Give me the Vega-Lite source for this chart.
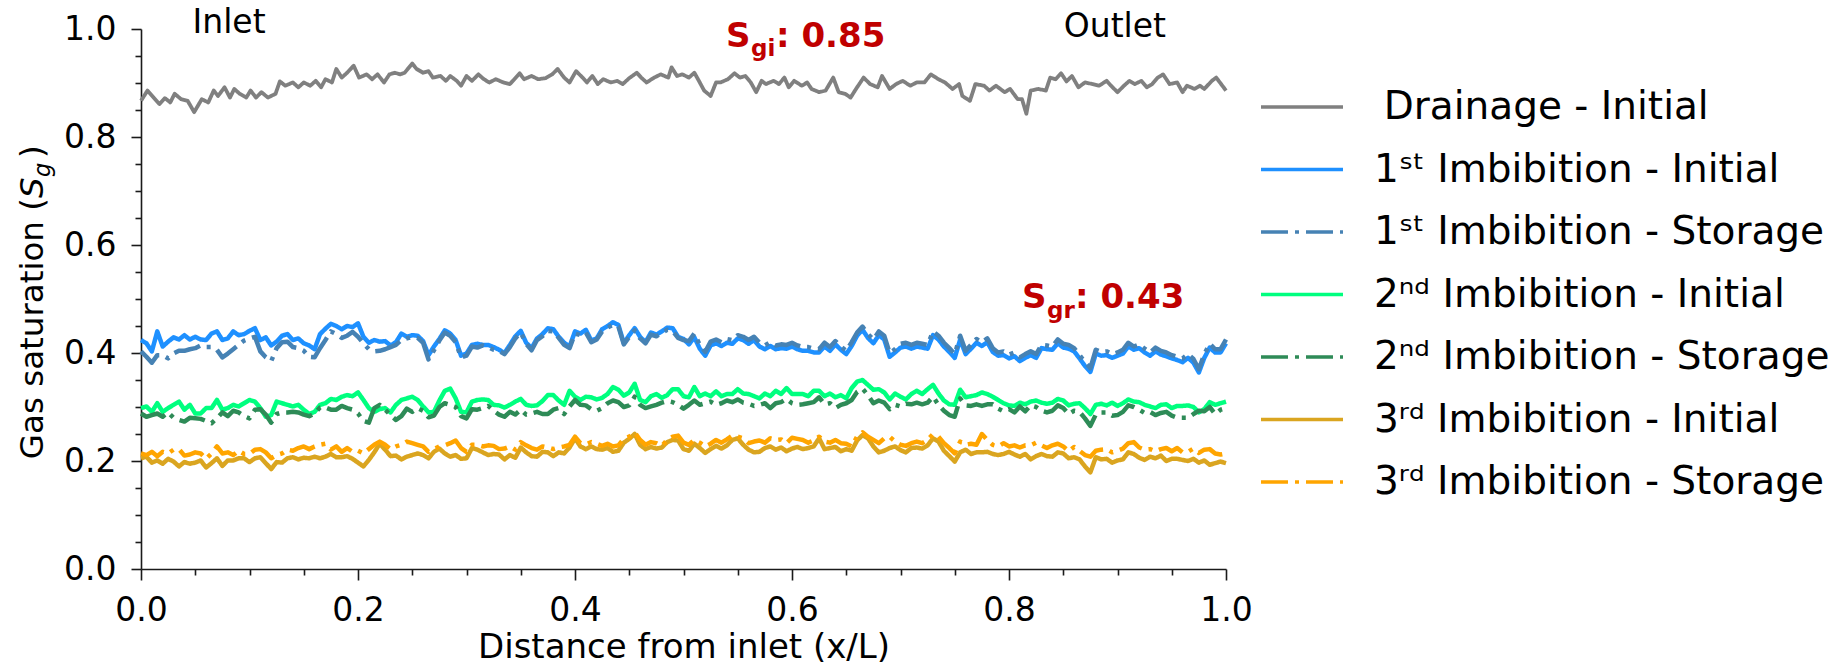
{
  "$schema": "https://vega.github.io/schema/vega-lite/v6.json",
  "width": 1085,
  "height": 540,
  "autosize": {"type": "none"},
  "padding": {"left": 141, "top": 29, "right": 616, "bottom": 96},
  "background": "white",
  "config": {
    "view": {"stroke": null},
    "font": "DejaVu Sans",
    "axis": {
      "grid": false,
      "domainColor": "#1a1a1a",
      "tickColor": "#1a1a1a",
      "domainWidth": 1.6,
      "tickWidth": 1.6,
      "labelColor": "#000000",
      "titleColor": "#000000",
      "labelFont": "DejaVu Sans",
      "titleFont": "DejaVu Sans",
      "labelFontSize": 33,
      "titleFontSize": 34,
      "titleFontWeight": "normal",
      "labelFlush": false,
      "labelOverlap": false,
      "labelBound": false
    },
    "legend": {
      "orient": "none",
      "legendX": 1118,
      "legendY": 58,
      "padding": 0,
      "symbolType": "stroke",
      "symbolSize": 6724,
      "symbolStrokeWidth": 3.5,
      "labelFont": "DejaVu Sans",
      "labelFontSize": 39,
      "labelColor": "#000000",
      "labelLimit": 1000,
      "labelOffset": 29,
      "clipHeight": 40,
      "rowPadding": 22.5
    }
  },
  "resolve": {"axis": {"x": "independent", "y": "independent"}},
  "datasets": {
    "drainage": [
      {"x":0.0,"D":0.867},{"x":0.006,"D":0.886},{"x":0.013,"D":0.870},{"x":0.017,"D":0.861},{"x":0.022,"D":0.872},{"x":0.027,"D":0.864},{"x":0.031,"D":0.880},{"x":0.037,"D":0.870},{"x":0.043,"D":0.867},{"x":0.049,"D":0.846},
      {"x":0.056,"D":0.870},{"x":0.062,"D":0.864},{"x":0.067,"D":0.886},{"x":0.071,"D":0.876},{"x":0.077,"D":0.892},{"x":0.082,"D":0.873},{"x":0.086,"D":0.889},{"x":0.091,"D":0.880},{"x":0.097,"D":0.873},{"x":0.101,"D":0.886},
      {"x":0.106,"D":0.873},{"x":0.111,"D":0.883},{"x":0.117,"D":0.873},{"x":0.124,"D":0.880},{"x":0.128,"D":0.903},{"x":0.133,"D":0.895},{"x":0.140,"D":0.901},{"x":0.145,"D":0.892},{"x":0.150,"D":0.901},{"x":0.156,"D":0.895},
      {"x":0.161,"D":0.904},{"x":0.166,"D":0.892},{"x":0.170,"D":0.907},{"x":0.176,"D":0.901},{"x":0.180,"D":0.926},{"x":0.185,"D":0.910},{"x":0.190,"D":0.919},{"x":0.196,"D":0.932},{"x":0.201,"D":0.910},{"x":0.208,"D":0.916},
      {"x":0.213,"D":0.907},{"x":0.218,"D":0.916},{"x":0.224,"D":0.901},{"x":0.229,"D":0.916},{"x":0.234,"D":0.919},{"x":0.239,"D":0.916},{"x":0.243,"D":0.919},{"x":0.250,"D":0.936},{"x":0.254,"D":0.926},{"x":0.260,"D":0.919},
      {"x":0.265,"D":0.922},{"x":0.269,"D":0.910},{"x":0.276,"D":0.913},{"x":0.281,"D":0.904},{"x":0.285,"D":0.913},{"x":0.291,"D":0.904},{"x":0.295,"D":0.895},{"x":0.300,"D":0.913},{"x":0.305,"D":0.904},{"x":0.311,"D":0.916},
      {"x":0.316,"D":0.907},{"x":0.321,"D":0.901},{"x":0.327,"D":0.907},{"x":0.334,"D":0.901},{"x":0.340,"D":0.898},{"x":0.349,"D":0.918},{"x":0.353,"D":0.907},{"x":0.360,"D":0.913},{"x":0.366,"D":0.907},{"x":0.373,"D":0.909},
      {"x":0.379,"D":0.916},{"x":0.384,"D":0.926},{"x":0.390,"D":0.910},{"x":0.395,"D":0.901},{"x":0.401,"D":0.922},{"x":0.407,"D":0.910},{"x":0.411,"D":0.901},{"x":0.416,"D":0.913},{"x":0.421,"D":0.898},{"x":0.426,"D":0.907},
      {"x":0.433,"D":0.901},{"x":0.439,"D":0.904},{"x":0.444,"D":0.898},{"x":0.450,"D":0.909},{"x":0.457,"D":0.919},{"x":0.461,"D":0.910},{"x":0.466,"D":0.901},{"x":0.473,"D":0.910},{"x":0.479,"D":0.916},{"x":0.486,"D":0.910},
      {"x":0.489,"D":0.929},{"x":0.494,"D":0.913},{"x":0.499,"D":0.916},{"x":0.505,"D":0.910},{"x":0.510,"D":0.919},{"x":0.515,"D":0.901},{"x":0.519,"D":0.886},{"x":0.525,"D":0.876},{"x":0.530,"D":0.901},{"x":0.534,"D":0.901},
      {"x":0.541,"D":0.907},{"x":0.547,"D":0.918},{"x":0.552,"D":0.910},{"x":0.557,"D":0.913},{"x":0.562,"D":0.901},{"x":0.567,"D":0.883},{"x":0.572,"D":0.904},{"x":0.576,"D":0.898},{"x":0.583,"D":0.904},{"x":0.588,"D":0.898},
      {"x":0.593,"D":0.910},{"x":0.597,"D":0.892},{"x":0.602,"D":0.904},{"x":0.609,"D":0.895},{"x":0.614,"D":0.901},{"x":0.618,"D":0.889},{"x":0.625,"D":0.883},{"x":0.631,"D":0.886},{"x":0.638,"D":0.910},{"x":0.643,"D":0.883},
      {"x":0.649,"D":0.880},{"x":0.654,"D":0.873},{"x":0.659,"D":0.889},{"x":0.666,"D":0.910},{"x":0.672,"D":0.898},{"x":0.679,"D":0.892},{"x":0.683,"D":0.913},{"x":0.690,"D":0.889},{"x":0.696,"D":0.898},{"x":0.702,"D":0.904},
      {"x":0.709,"D":0.895},{"x":0.715,"D":0.901},{"x":0.722,"D":0.901},{"x":0.728,"D":0.916},{"x":0.735,"D":0.907},{"x":0.741,"D":0.901},{"x":0.748,"D":0.889},{"x":0.754,"D":0.898},{"x":0.757,"D":0.876},{"x":0.764,"D":0.867},
      {"x":0.769,"D":0.898},{"x":0.777,"D":0.895},{"x":0.782,"D":0.886},{"x":0.788,"D":0.895},{"x":0.796,"D":0.883},{"x":0.801,"D":0.889},{"x":0.808,"D":0.870},{"x":0.812,"D":0.870},{"x":0.816,"D":0.843},{"x":0.820,"D":0.886},
      {"x":0.827,"D":0.889},{"x":0.834,"D":0.886},{"x":0.838,"D":0.910},{"x":0.843,"D":0.907},{"x":0.848,"D":0.918},{"x":0.853,"D":0.903},{"x":0.858,"D":0.913},{"x":0.864,"D":0.892},{"x":0.870,"D":0.901},{"x":0.877,"D":0.898},
      {"x":0.883,"D":0.895},{"x":0.890,"D":0.904},{"x":0.894,"D":0.895},{"x":0.900,"D":0.883},{"x":0.906,"D":0.895},{"x":0.911,"D":0.904},{"x":0.916,"D":0.898},{"x":0.922,"D":0.904},{"x":0.927,"D":0.892},{"x":0.932,"D":0.898},
      {"x":0.937,"D":0.910},{"x":0.942,"D":0.916},{"x":0.948,"D":0.898},{"x":0.955,"D":0.901},{"x":0.960,"D":0.883},{"x":0.964,"D":0.895},{"x":0.971,"D":0.889},{"x":0.976,"D":0.895},{"x":0.980,"D":0.889},{"x":0.987,"D":0.904},
      {"x":0.991,"D":0.910},{"x":1.0,"D":0.886}
    ],
    "imbibition": [
      {"x":0,"a":0.424,"b":0.403,"c":0.298,"d":0.288,"e":0.205,"f":0.214},
      {"x":0.005,"a":0.418,"b":0.393,"c":0.301,"d":0.282,"e":0.208,"f":0.211},
      {"x":0.01,"a":0.403,"b":0.382,"c":0.291,"d":0.285,"e":0.197,"f":0.217},
      {"x":0.015,"a":0.440,"b":0.396,"c":0.307,"d":0.288,"e":0.201,"f":0.209},
      {"x":0.02,"a":0.412,"b":0.396,"c":0.291,"d":0.282,"e":0.195,"f":0.217},
      {"x":0.025,"a":0.421,"b":0.390,"c":0.298,"d":0.290,"e":0.204,"f":0.214},
      {"x":0.03,"a":0.429,"b":0.399,"c":0.304,"d":0.280,"e":0.199,"f":0.221},
      {"x":0.035,"a":0.425,"b":0.404,"c":0.310,"d":0.276,"e":0.190,"f":0.222},
      {"x":0.04,"a":0.433,"b":0.404,"c":0.295,"d":0.273,"e":0.198,"f":0.210},
      {"x":0.045,"a":0.425,"b":0.407,"c":0.304,"d":0.280,"e":0.195,"f":0.212},
      {"x":0.05,"a":0.430,"b":0.409,"c":0.288,"d":0.279,"e":0.197,"f":0.216},
      {"x":0.055,"a":0.425,"b":0.414,"c":0.288,"d":0.278,"e":0.201,"f":0.214},
      {"x":0.06,"a":0.424,"b":0.411,"c":0.298,"d":0.274,"e":0.188,"f":0.204},
      {"x":0.065,"a":0.436,"b":0.411,"c":0.298,"d":0.270,"e":0.196,"f":0.214},
      {"x":0.07,"a":0.440,"b":0.406,"c":0.313,"d":0.279,"e":0.205,"f":0.227},
      {"x":0.075,"a":0.424,"b":0.392,"c":0.295,"d":0.290,"e":0.191,"f":0.214},
      {"x":0.08,"a":0.427,"b":0.399,"c":0.298,"d":0.283,"e":0.201,"f":0.216},
      {"x":0.085,"a":0.440,"b":0.407,"c":0.304,"d":0.293,"e":0.201,"f":0.211},
      {"x":0.09,"a":0.433,"b":0.415,"c":0.301,"d":0.290,"e":0.205,"f":0.219},
      {"x":0.095,"a":0.435,"b":0.423,"c":0.307,"d":0.283,"e":0.205,"f":0.213},
      {"x":0.1,"a":0.441,"b":0.427,"c":0.313,"d":0.279,"e":0.198,"f":0.213},
      {"x":0.105,"a":0.446,"b":0.430,"c":0.310,"d":0.295,"e":0.205,"f":0.221},
      {"x":0.11,"a":0.424,"b":0.403,"c":0.298,"d":0.296,"e":0.207,"f":0.222},
      {"x":0.115,"a":0.429,"b":0.392,"c":0.282,"d":0.286,"e":0.196,"f":0.216},
      {"x":0.12,"a":0.414,"b":0.385,"c":0.285,"d":0.271,"e":0.185,"f":0.205},
      {"x":0.125,"a":0.421,"b":0.409,"c":0.310,"d":0.287,"e":0.198,"f":0.211},
      {"x":0.13,"a":0.432,"b":0.420,"c":0.307,"d":0.290,"e":0.197,"f":0.214},
      {"x":0.135,"a":0.435,"b":0.421,"c":0.304,"d":0.290,"e":0.205,"f":0.221},
      {"x":0.14,"a":0.424,"b":0.411,"c":0.301,"d":0.291,"e":0.207,"f":0.219},
      {"x":0.145,"a":0.427,"b":0.409,"c":0.304,"d":0.290,"e":0.203,"f":0.224},
      {"x":0.15,"a":0.418,"b":0.404,"c":0.295,"d":0.286,"e":0.206,"f":0.227},
      {"x":0.155,"a":0.414,"b":0.393,"c":0.287,"d":0.283,"e":0.205,"f":0.222},
      {"x":0.16,"a":0.407,"b":0.392,"c":0.291,"d":0.288,"e":0.208,"f":0.227},
      {"x":0.165,"a":0.435,"b":0.409,"c":0.304,"d":0.299,"e":0.205,"f":0.230},
      {"x":0.17,"a":0.445,"b":0.424,"c":0.307,"d":0.299,"e":0.208,"f":0.232},
      {"x":0.175,"a":0.454,"b":0.440,"c":0.315,"d":0.295,"e":0.213,"f":0.221},
      {"x":0.18,"a":0.450,"b":0.435,"c":0.313,"d":0.295,"e":0.207,"f":0.227},
      {"x":0.185,"a":0.444,"b":0.428,"c":0.319,"d":0.302,"e":0.207,"f":0.217},
      {"x":0.19,"a":0.450,"b":0.432,"c":0.322,"d":0.298,"e":0.209,"f":0.224},
      {"x":0.195,"a":0.448,"b":0.439,"c":0.320,"d":0.295,"e":0.204,"f":0.217},
      {"x":0.2,"a":0.455,"b":0.430,"c":0.327,"d":0.288,"e":0.197,"f":0.219},
      {"x":0.205,"a":0.430,"b":0.418,"c":0.313,"d":0.274,"e":0.190,"f":0.214},
      {"x":0.21,"a":0.419,"b":0.407,"c":0.298,"d":0.271,"e":0.202,"f":0.222},
      {"x":0.215,"a":0.424,"b":0.403,"c":0.291,"d":0.298,"e":0.216,"f":0.230},
      {"x":0.22,"a":0.421,"b":0.404,"c":0.296,"d":0.304,"e":0.232,"f":0.236},
      {"x":0.225,"a":0.422,"b":0.407,"c":0.298,"d":0.295,"e":0.221,"f":0.230},
      {"x":0.23,"a":0.414,"b":0.411,"c":0.290,"d":0.285,"e":0.209,"f":0.222},
      {"x":0.235,"a":0.420,"b":0.415,"c":0.304,"d":0.276,"e":0.210,"f":0.227},
      {"x":0.24,"a":0.436,"b":0.424,"c":0.313,"d":0.283,"e":0.203,"f":0.230},
      {"x":0.245,"a":0.430,"b":0.427,"c":0.316,"d":0.297,"e":0.208,"f":0.236},
      {"x":0.25,"a":0.433,"b":0.430,"c":0.319,"d":0.291,"e":0.211,"f":0.233},
      {"x":0.255,"a":0.432,"b":0.428,"c":0.313,"d":0.298,"e":0.214,"f":0.230},
      {"x":0.26,"a":0.422,"b":0.419,"c":0.301,"d":0.293,"e":0.211,"f":0.227},
      {"x":0.265,"a":0.396,"b":0.388,"c":0.290,"d":0.281,"e":0.205,"f":0.217},
      {"x":0.27,"a":0.412,"b":0.405,"c":0.291,"d":0.284,"e":0.217,"f":0.222},
      {"x":0.275,"a":0.426,"b":0.423,"c":0.312,"d":0.300,"e":0.223,"f":0.227},
      {"x":0.28,"a":0.442,"b":0.438,"c":0.330,"d":0.307,"e":0.214,"f":0.229},
      {"x":0.285,"a":0.436,"b":0.432,"c":0.334,"d":0.304,"e":0.208,"f":0.233},
      {"x":0.29,"a":0.424,"b":0.420,"c":0.316,"d":0.300,"e":0.211,"f":0.238},
      {"x":0.295,"a":0.395,"b":0.392,"c":0.291,"d":0.283,"e":0.204,"f":0.224},
      {"x":0.3,"a":0.399,"b":0.395,"c":0.290,"d":0.279,"e":0.205,"f":0.217},
      {"x":0.305,"a":0.415,"b":0.412,"c":0.310,"d":0.296,"e":0.224,"f":0.230},
      {"x":0.31,"a":0.417,"b":0.410,"c":0.313,"d":0.295,"e":0.221,"f":0.230},
      {"x":0.315,"a":0.415,"b":0.414,"c":0.314,"d":0.298,"e":0.216,"f":0.227},
      {"x":0.32,"a":0.415,"b":0.411,"c":0.313,"d":0.302,"e":0.211,"f":0.229},
      {"x":0.325,"a":0.411,"b":0.406,"c":0.304,"d":0.293,"e":0.213,"f":0.228},
      {"x":0.33,"a":0.406,"b":0.404,"c":0.303,"d":0.286,"e":0.212,"f":0.222},
      {"x":0.335,"a":0.400,"b":0.398,"c":0.299,"d":0.282,"e":0.203,"f":0.223},
      {"x":0.34,"a":0.415,"b":0.411,"c":0.304,"d":0.291,"e":0.211,"f":0.227},
      {"x":0.345,"a":0.431,"b":0.427,"c":0.310,"d":0.286,"e":0.206,"f":0.221},
      {"x":0.35,"a":0.441,"b":0.438,"c":0.315,"d":0.295,"e":0.225,"f":0.235},
      {"x":0.355,"a":0.419,"b":0.417,"c":0.304,"d":0.286,"e":0.216,"f":0.229},
      {"x":0.36,"a":0.409,"b":0.405,"c":0.302,"d":0.288,"e":0.209,"f":0.224},
      {"x":0.365,"a":0.427,"b":0.424,"c":0.303,"d":0.291,"e":0.208,"f":0.221},
      {"x":0.37,"a":0.435,"b":0.431,"c":0.311,"d":0.287,"e":0.217,"f":0.227},
      {"x":0.375,"a":0.446,"b":0.441,"c":0.322,"d":0.287,"e":0.216,"f":0.225},
      {"x":0.38,"a":0.444,"b":0.440,"c":0.322,"d":0.295,"e":0.209,"f":0.222},
      {"x":0.385,"a":0.430,"b":0.428,"c":0.312,"d":0.298,"e":0.216,"f":0.225},
      {"x":0.39,"a":0.419,"b":0.415,"c":0.304,"d":0.287,"e":0.214,"f":0.227},
      {"x":0.395,"a":0.412,"b":0.409,"c":0.330,"d":0.301,"e":0.225,"f":0.230},
      {"x":0.4,"a":0.440,"b":0.436,"c":0.319,"d":0.313,"e":0.242,"f":0.245},
      {"x":0.405,"a":0.436,"b":0.433,"c":0.313,"d":0.304,"e":0.227,"f":0.233},
      {"x":0.41,"a":0.443,"b":0.438,"c":0.319,"d":0.303,"e":0.222,"f":0.231},
      {"x":0.415,"a":0.423,"b":0.420,"c":0.318,"d":0.296,"e":0.227,"f":0.235},
      {"x":0.42,"a":0.427,"b":0.425,"c":0.314,"d":0.293,"e":0.222,"f":0.232},
      {"x":0.425,"a":0.444,"b":0.440,"c":0.317,"d":0.298,"e":0.221,"f":0.228},
      {"x":0.43,"a":0.450,"b":0.447,"c":0.324,"d":0.307,"e":0.224,"f":0.232},
      {"x":0.435,"a":0.457,"b":0.452,"c":0.337,"d":0.312,"e":0.217,"f":0.227},
      {"x":0.44,"a":0.452,"b":0.449,"c":0.332,"d":0.309,"e":0.219,"f":0.229},
      {"x":0.445,"a":0.418,"b":0.416,"c":0.321,"d":0.300,"e":0.234,"f":0.241},
      {"x":0.45,"a":0.433,"b":0.430,"c":0.327,"d":0.303,"e":0.241,"f":0.245},
      {"x":0.455,"a":0.446,"b":0.442,"c":0.343,"d":0.319,"e":0.250,"f":0.253},
      {"x":0.46,"a":0.430,"b":0.427,"c":0.313,"d":0.304,"e":0.230,"f":0.239},
      {"x":0.465,"a":0.420,"b":0.418,"c":0.309,"d":0.298,"e":0.222,"f":0.230},
      {"x":0.47,"a":0.438,"b":0.434,"c":0.320,"d":0.301,"e":0.226,"f":0.235},
      {"x":0.475,"a":0.434,"b":0.431,"c":0.324,"d":0.304,"e":0.223,"f":0.233},
      {"x":0.48,"a":0.440,"b":0.437,"c":0.317,"d":0.308,"e":0.225,"f":0.228},
      {"x":0.485,"a":0.447,"b":0.443,"c":0.322,"d":0.311,"e":0.235,"f":0.239},
      {"x":0.49,"a":0.446,"b":0.441,"c":0.333,"d":0.309,"e":0.239,"f":0.245},
      {"x":0.495,"a":0.430,"b":0.428,"c":0.333,"d":0.304,"e":0.238,"f":0.247},
      {"x":0.5,"a":0.426,"b":0.424,"c":0.320,"d":0.297,"e":0.222,"f":0.234},
      {"x":0.505,"a":0.416,"b":0.422,"c":0.318,"d":0.304,"e":0.219,"f":0.230},
      {"x":0.51,"a":0.429,"b":0.436,"c":0.337,"d":0.312,"e":0.232,"f":0.239},
      {"x":0.515,"a":0.408,"b":0.415,"c":0.320,"d":0.304,"e":0.224,"f":0.234},
      {"x":0.52,"a":0.395,"b":0.402,"c":0.325,"d":0.307,"e":0.215,"f":0.227},
      {"x":0.525,"a":0.414,"b":0.421,"c":0.320,"d":0.310,"e":0.222,"f":0.232},
      {"x":0.53,"a":0.418,"b":0.425,"c":0.329,"d":0.304,"e":0.228,"f":0.239},
      {"x":0.535,"a":0.413,"b":0.420,"c":0.320,"d":0.307,"e":0.223,"f":0.234},
      {"x":0.54,"a":0.419,"b":0.426,"c":0.324,"d":0.312,"e":0.229,"f":0.240},
      {"x":0.545,"a":0.417,"b":0.424,"c":0.324,"d":0.309,"e":0.239,"f":0.247},
      {"x":0.55,"a":0.427,"b":0.433,"c":0.333,"d":0.314,"e":0.242,"f":0.245},
      {"x":0.555,"a":0.424,"b":0.430,"c":0.325,"d":0.308,"e":0.230,"f":0.242},
      {"x":0.56,"a":0.417,"b":0.424,"c":0.324,"d":0.306,"e":0.221,"f":0.233},
      {"x":0.565,"a":0.424,"b":0.430,"c":0.320,"d":0.302,"e":0.216,"f":0.236},
      {"x":0.57,"a":0.412,"b":0.419,"c":0.316,"d":0.304,"e":0.217,"f":0.238},
      {"x":0.575,"a":0.407,"b":0.414,"c":0.325,"d":0.307,"e":0.224,"f":0.234},
      {"x":0.58,"a":0.413,"b":0.420,"c":0.320,"d":0.298,"e":0.227,"f":0.242},
      {"x":0.585,"a":0.407,"b":0.414,"c":0.330,"d":0.307,"e":0.221,"f":0.239},
      {"x":0.59,"a":0.409,"b":0.416,"c":0.324,"d":0.309,"e":0.225,"f":0.240},
      {"x":0.595,"a":0.408,"b":0.415,"c":0.335,"d":0.315,"e":0.218,"f":0.233},
      {"x":0.6,"a":0.412,"b":0.419,"c":0.324,"d":0.307,"e":0.223,"f":0.243},
      {"x":0.605,"a":0.407,"b":0.414,"c":0.324,"d":0.304,"e":0.226,"f":0.241},
      {"x":0.61,"a":0.404,"b":0.411,"c":0.324,"d":0.305,"e":0.222,"f":0.239},
      {"x":0.615,"a":0.404,"b":0.411,"c":0.320,"d":0.307,"e":0.224,"f":0.234},
      {"x":0.62,"a":0.401,"b":0.408,"c":0.330,"d":0.309,"e":0.227,"f":0.238},
      {"x":0.625,"a":0.401,"b":0.407,"c":0.330,"d":0.318,"e":0.242,"f":0.245},
      {"x":0.63,"a":0.412,"b":0.419,"c":0.320,"d":0.305,"e":0.222,"f":0.236},
      {"x":0.635,"a":0.404,"b":0.411,"c":0.325,"d":0.307,"e":0.224,"f":0.234},
      {"x":0.64,"a":0.416,"b":0.422,"c":0.318,"d":0.298,"e":0.226,"f":0.239},
      {"x":0.645,"a":0.406,"b":0.412,"c":0.322,"d":0.304,"e":0.218,"f":0.233},
      {"x":0.65,"a":0.398,"b":0.404,"c":0.316,"d":0.307,"e":0.222,"f":0.232},
      {"x":0.655,"a":0.413,"b":0.420,"c":0.335,"d":0.313,"e":0.219,"f":0.227},
      {"x":0.66,"a":0.432,"b":0.438,"c":0.347,"d":0.328,"e":0.238,"f":0.245},
      {"x":0.665,"a":0.443,"b":0.449,"c":0.350,"d":0.334,"e":0.248,"f":0.253},
      {"x":0.67,"a":0.428,"b":0.435,"c":0.341,"d":0.322,"e":0.242,"f":0.245},
      {"x":0.675,"a":0.418,"b":0.425,"c":0.332,"d":0.307,"e":0.227,"f":0.239},
      {"x":0.68,"a":0.433,"b":0.440,"c":0.333,"d":0.312,"e":0.216,"f":0.233},
      {"x":0.685,"a":0.425,"b":0.432,"c":0.327,"d":0.308,"e":0.219,"f":0.242},
      {"x":0.69,"a":0.393,"b":0.400,"c":0.314,"d":0.296,"e":0.224,"f":0.245},
      {"x":0.695,"a":0.401,"b":0.407,"c":0.325,"d":0.304,"e":0.227,"f":0.236},
      {"x":0.7,"a":0.410,"b":0.417,"c":0.319,"d":0.301,"e":0.220,"f":0.230},
      {"x":0.705,"a":0.412,"b":0.419,"c":0.314,"d":0.306,"e":0.216,"f":0.228},
      {"x":0.71,"a":0.408,"b":0.415,"c":0.324,"d":0.305,"e":0.224,"f":0.233},
      {"x":0.715,"a":0.412,"b":0.419,"c":0.330,"d":0.308,"e":0.225,"f":0.236},
      {"x":0.72,"a":0.410,"b":0.417,"c":0.324,"d":0.305,"e":0.223,"f":0.233},
      {"x":0.725,"a":0.408,"b":0.415,"c":0.333,"d":0.308,"e":0.229,"f":0.239},
      {"x":0.73,"a":0.433,"b":0.440,"c":0.341,"d":0.319,"e":0.242,"f":0.250},
      {"x":0.735,"a":0.425,"b":0.432,"c":0.325,"d":0.304,"e":0.236,"f":0.245},
      {"x":0.74,"a":0.412,"b":0.419,"c":0.312,"d":0.293,"e":0.219,"f":0.233},
      {"x":0.745,"a":0.402,"b":0.409,"c":0.305,"d":0.285,"e":0.209,"f":0.224},
      {"x":0.75,"a":0.391,"b":0.398,"c":0.304,"d":0.282,"e":0.199,"f":0.214},
      {"x":0.755,"a":0.425,"b":0.432,"c":0.332,"d":0.316,"e":0.216,"f":0.236},
      {"x":0.76,"a":0.398,"b":0.404,"c":0.318,"d":0.303,"e":0.221,"f":0.230},
      {"x":0.765,"a":0.408,"b":0.415,"c":0.320,"d":0.302,"e":0.213,"f":0.232},
      {"x":0.77,"a":0.419,"b":0.426,"c":0.322,"d":0.305,"e":0.216,"f":0.230},
      {"x":0.775,"a":0.413,"b":0.420,"c":0.327,"d":0.302,"e":0.216,"f":0.250},
      {"x":0.78,"a":0.420,"b":0.427,"c":0.324,"d":0.305,"e":0.217,"f":0.239},
      {"x":0.785,"a":0.402,"b":0.409,"c":0.319,"d":0.305,"e":0.213,"f":0.230},
      {"x":0.79,"a":0.395,"b":0.401,"c":0.313,"d":0.297,"e":0.211,"f":0.227},
      {"x":0.795,"a":0.396,"b":0.403,"c":0.307,"d":0.292,"e":0.213,"f":0.233},
      {"x":0.8,"a":0.390,"b":0.397,"c":0.303,"d":0.296,"e":0.217,"f":0.227},
      {"x":0.805,"a":0.394,"b":0.401,"c":0.302,"d":0.290,"e":0.212,"f":0.229},
      {"x":0.81,"a":0.385,"b":0.392,"c":0.308,"d":0.301,"e":0.208,"f":0.225},
      {"x":0.815,"a":0.391,"b":0.398,"c":0.305,"d":0.292,"e":0.213,"f":0.229},
      {"x":0.82,"a":0.396,"b":0.403,"c":0.310,"d":0.303,"e":0.203,"f":0.229},
      {"x":0.825,"a":0.391,"b":0.398,"c":0.312,"d":0.300,"e":0.209,"f":0.234},
      {"x":0.83,"a":0.409,"b":0.415,"c":0.308,"d":0.293,"e":0.213,"f":0.229},
      {"x":0.835,"a":0.407,"b":0.414,"c":0.306,"d":0.290,"e":0.209,"f":0.224},
      {"x":0.84,"a":0.406,"b":0.412,"c":0.308,"d":0.293,"e":0.208,"f":0.229},
      {"x":0.845,"a":0.418,"b":0.425,"c":0.315,"d":0.303,"e":0.216,"f":0.232},
      {"x":0.85,"a":0.410,"b":0.417,"c":0.312,"d":0.298,"e":0.214,"f":0.227},
      {"x":0.855,"a":0.408,"b":0.415,"c":0.303,"d":0.287,"e":0.205,"f":0.218},
      {"x":0.86,"a":0.403,"b":0.409,"c":0.306,"d":0.293,"e":0.207,"f":0.226},
      {"x":0.865,"a":0.390,"b":0.396,"c":0.307,"d":0.291,"e":0.203,"f":0.219},
      {"x":0.87,"a":0.376,"b":0.383,"c":0.298,"d":0.279,"e":0.190,"f":0.211},
      {"x":0.875,"a":0.365,"b":0.372,"c":0.287,"d":0.265,"e":0.179,"f":0.208},
      {"x":0.88,"a":0.399,"b":0.406,"c":0.304,"d":0.286,"e":0.207,"f":0.219},
      {"x":0.885,"a":0.395,"b":0.402,"c":0.306,"d":0.290,"e":0.203,"f":0.221},
      {"x":0.89,"a":0.396,"b":0.403,"c":0.303,"d":0.290,"e":0.204,"f":0.222},
      {"x":0.895,"a":0.391,"b":0.398,"c":0.308,"d":0.284,"e":0.197,"f":0.216},
      {"x":0.9,"a":0.395,"b":0.401,"c":0.302,"d":0.285,"e":0.201,"f":0.219},
      {"x":0.905,"a":0.399,"b":0.406,"c":0.307,"d":0.291,"e":0.203,"f":0.223},
      {"x":0.91,"a":0.412,"b":0.419,"c":0.314,"d":0.303,"e":0.216,"f":0.233},
      {"x":0.915,"a":0.406,"b":0.412,"c":0.310,"d":0.300,"e":0.213,"f":0.235},
      {"x":0.92,"a":0.409,"b":0.416,"c":0.309,"d":0.295,"e":0.206,"f":0.225},
      {"x":0.925,"a":0.401,"b":0.408,"c":0.304,"d":0.289,"e":0.202,"f":0.221},
      {"x":0.93,"a":0.395,"b":0.401,"c":0.301,"d":0.291,"e":0.208,"f":0.222},
      {"x":0.935,"a":0.403,"b":0.410,"c":0.298,"d":0.285,"e":0.205,"f":0.218},
      {"x":0.94,"a":0.397,"b":0.404,"c":0.304,"d":0.289,"e":0.210,"f":0.222},
      {"x":0.945,"a":0.394,"b":0.401,"c":0.305,"d":0.291,"e":0.200,"f":0.224},
      {"x":0.95,"a":0.390,"b":0.396,"c":0.298,"d":0.284,"e":0.204,"f":0.218},
      {"x":0.955,"a":0.387,"b":0.393,"c":0.302,"d":0.280,"e":0.204,"f":0.224},
      {"x":0.96,"a":0.383,"b":0.390,"c":0.302,"d":0.280,"e":0.202,"f":0.216},
      {"x":0.965,"a":0.391,"b":0.398,"c":0.303,"d":0.280,"e":0.200,"f":0.217},
      {"x":0.97,"a":0.382,"b":0.389,"c":0.300,"d":0.287,"e":0.204,"f":0.223},
      {"x":0.975,"a":0.364,"b":0.370,"c":0.290,"d":0.293,"e":0.197,"f":0.215},
      {"x":0.98,"a":0.391,"b":0.398,"c":0.296,"d":0.292,"e":0.201,"f":0.221},
      {"x":0.985,"a":0.410,"b":0.417,"c":0.309,"d":0.300,"e":0.193,"f":0.222},
      {"x":0.99,"a":0.401,"b":0.407,"c":0.304,"d":0.287,"e":0.196,"f":0.214},
      {"x":0.995,"a":0.401,"b":0.407,"c":0.307,"d":0.295,"e":0.199,"f":0.212},
      {"x":1.0,"a":0.418,"b":0.425,"c":0.310,"d":0.298,"e":0.196,"f":0.214}
    ]
  },
  "layer": [
    {
      "data": {"name": "drainage"},
      "transform": [{"fold": ["D"], "as": ["series", "sg"]}],
      "mark": {"type": "line", "strokeWidth": 3.8, "strokeCap": "butt", "strokeJoin": "round"},
      "encoding": {
        "x": {
          "field": "x", "type": "quantitative",
          "scale": {"domain": [0, 1], "nice": false},
          "axis": {"orient": "bottom", "title": "Distance from inlet (x/L)", "values": [0, 0.2, 0.4, 0.6, 0.8, 1], "format": ".1f", "tickSize": 11, "labelPadding": 14, "titlePadding": 3}
        },
        "y": {
          "field": "sg", "type": "quantitative",
          "scale": {"domain": [0, 1], "nice": false},
          "axis": {"orient": "left", "title": null, "values": [0, 0.2, 0.4, 0.6, 0.8, 1], "format": ".1f", "tickSize": 10, "labelPadding": 15}
        },
        "color": {
          "field": "series", "type": "nominal",
          "scale": {"domain": ["D", "a", "b", "c", "d", "e", "f"], "range": ["#808080", "#1e90ff", "#4682b4", "#00ff7f", "#2e8b57", "#daa520", "#ffa500"]},
          "legend": {"title": null, "labelExpr": "{'D': '\u200b\u2005Drainage - Initial', 'a': '1ˢᵗ Imbibition - Initial', 'b': '1ˢᵗ Imbibition - Storage', 'c': '2ⁿᵈ Imbibition - Initial', 'd': '2ⁿᵈ Imbibition - Storage', 'e': '3ʳᵈ Imbibition - Initial', 'f': '3ʳᵈ Imbibition - Storage'}[datum.label]"}
        },
        "strokeDash": {
          "field": "series", "type": "nominal",
          "scale": {"domain": ["D", "a", "b", "c", "d", "e", "f"], "range": [[1, 0], [1, 0], [27, 7, 4, 7], [1, 0], [27, 7, 4, 7], [1, 0], [27, 7, 4, 7]]},
          "legend": {"title": null, "labelExpr": "{'D': '\u200b\u2005Drainage - Initial', 'a': '1ˢᵗ Imbibition - Initial', 'b': '1ˢᵗ Imbibition - Storage', 'c': '2ⁿᵈ Imbibition - Initial', 'd': '2ⁿᵈ Imbibition - Storage', 'e': '3ʳᵈ Imbibition - Initial', 'f': '3ʳᵈ Imbibition - Storage'}[datum.label]"}
        }
      }
    },
    {
      "data": {"name": "imbibition"},
      "transform": [{"fold": ["a", "b", "c", "d", "e", "f"], "as": ["series", "sg"]}],
      "mark": {"type": "line", "strokeWidth": 4.5, "strokeCap": "butt", "strokeJoin": "round"},
      "encoding": {
        "x": {
          "field": "x", "type": "quantitative",
          "axis": {"orient": "bottom", "title": null, "labels": false, "domain": false, "values": [0.05, 0.1, 0.15, 0.25, 0.3, 0.35, 0.45, 0.5, 0.55, 0.65, 0.7, 0.75, 0.85, 0.9, 0.95], "tickSize": 6}
        },
        "y": {
          "field": "sg", "type": "quantitative",
          "axis": {"orient": "left", "title": null, "labels": false, "domain": false, "values": [0.05, 0.1, 0.15, 0.25, 0.3, 0.35, 0.45, 0.5, 0.55, 0.65, 0.7, 0.75, 0.85, 0.9, 0.95], "tickSize": 6}
        },
        "color": {
          "field": "series", "type": "nominal",
          "scale": {"domain": ["D", "a", "b", "c", "d", "e", "f"], "range": ["#808080", "#1e90ff", "#4682b4", "#00ff7f", "#2e8b57", "#daa520", "#ffa500"]},
          "legend": {"title": null, "labelExpr": "{'D': '\u200b\u2005Drainage - Initial', 'a': '1ˢᵗ Imbibition - Initial', 'b': '1ˢᵗ Imbibition - Storage', 'c': '2ⁿᵈ Imbibition - Initial', 'd': '2ⁿᵈ Imbibition - Storage', 'e': '3ʳᵈ Imbibition - Initial', 'f': '3ʳᵈ Imbibition - Storage'}[datum.label]"}
        },
        "strokeDash": {
          "field": "series", "type": "nominal",
          "scale": {"domain": ["D", "a", "b", "c", "d", "e", "f"], "range": [[1, 0], [1, 0], [27, 7, 4, 7], [1, 0], [27, 7, 4, 7], [1, 0], [27, 7, 4, 7]]},
          "legend": {"title": null, "labelExpr": "{'D': '\u200b\u2005Drainage - Initial', 'a': '1ˢᵗ Imbibition - Initial', 'b': '1ˢᵗ Imbibition - Storage', 'c': '2ⁿᵈ Imbibition - Initial', 'd': '2ⁿᵈ Imbibition - Storage', 'e': '3ʳᵈ Imbibition - Initial', 'f': '3ʳᵈ Imbibition - Storage'}[datum.label]"}
        }
      }
    },
    {
      "data": {"values": [{}]},
      "mark": {"type": "text", "text": "Inlet", "font": "DejaVu Sans", "fontSize": 33, "align": "left", "baseline": "alphabetic", "color": "#000000"},
      "encoding": {"x": {"datum": 0.0475, "type": "quantitative", "axis": null}, "y": {"datum": 0.9926, "type": "quantitative", "axis": null}}
    },
    {
      "data": {"values": [{}]},
      "mark": {"type": "text", "text": "Outlet", "font": "DejaVu Sans", "fontSize": 33, "align": "left", "baseline": "alphabetic", "color": "#000000"},
      "encoding": {"x": {"datum": 0.8505, "type": "quantitative", "axis": null}, "y": {"datum": 0.9852, "type": "quantitative", "axis": null}}
    },
    {
      "data": {"values": [{}]},
      "mark": {"type": "text", "text": "S", "font": "DejaVu Sans", "fontWeight": "bold", "fontSize": 34, "align": "left", "baseline": "alphabetic", "color": "#c00000"},
      "encoding": {"x": {"datum": 0.5392, "type": "quantitative", "axis": null}, "y": {"datum": 0.9667, "type": "quantitative", "axis": null}}
    },
    {
      "data": {"values": [{}]},
      "mark": {"type": "text", "text": "gi", "font": "DejaVu Sans", "fontWeight": "bold", "fontSize": 23, "align": "left", "baseline": "alphabetic", "color": "#c00000", "dx": 25, "dy": 9},
      "encoding": {"x": {"datum": 0.5392, "type": "quantitative", "axis": null}, "y": {"datum": 0.9667, "type": "quantitative", "axis": null}}
    },
    {
      "data": {"values": [{}]},
      "mark": {"type": "text", "text": ": 0.85", "font": "DejaVu Sans", "fontWeight": "bold", "fontSize": 34, "align": "left", "baseline": "alphabetic", "color": "#c00000", "dx": 50},
      "encoding": {"x": {"datum": 0.5392, "type": "quantitative", "axis": null}, "y": {"datum": 0.9667, "type": "quantitative", "axis": null}}
    },
    {
      "data": {"values": [{}]},
      "mark": {"type": "text", "text": "S", "font": "DejaVu Sans", "fontWeight": "bold", "fontSize": 34, "align": "left", "baseline": "alphabetic", "color": "#c00000"},
      "encoding": {"x": {"datum": 0.812, "type": "quantitative", "axis": null}, "y": {"datum": 0.4833, "type": "quantitative", "axis": null}}
    },
    {
      "data": {"values": [{}]},
      "mark": {"type": "text", "text": "gr", "font": "DejaVu Sans", "fontWeight": "bold", "fontSize": 23, "align": "left", "baseline": "alphabetic", "color": "#c00000", "dx": 25, "dy": 10},
      "encoding": {"x": {"datum": 0.812, "type": "quantitative", "axis": null}, "y": {"datum": 0.4833, "type": "quantitative", "axis": null}}
    },
    {
      "data": {"values": [{}]},
      "mark": {"type": "text", "text": ": 0.43", "font": "DejaVu Sans", "fontWeight": "bold", "fontSize": 34, "align": "left", "baseline": "alphabetic", "color": "#c00000", "dx": 53},
      "encoding": {"x": {"datum": 0.812, "type": "quantitative", "axis": null}, "y": {"datum": 0.4833, "type": "quantitative", "axis": null}}
    },
    {
      "data": {"values": [{}]},
      "mark": {"type": "text", "text": "Gas saturation (", "font": "DejaVu Sans", "fontSize": 32.5, "angle": 270, "align": "right", "baseline": "alphabetic", "color": "#000000"},
      "encoding": {"x": {"datum": -0.0903, "type": "quantitative", "axis": null}, "y": {"datum": 0.687, "type": "quantitative", "axis": null}}
    },
    {
      "data": {"values": [{}]},
      "mark": {"type": "text", "text": "S", "font": "DejaVu Sans", "fontStyle": "italic", "fontSize": 32.5, "angle": 270, "align": "left", "baseline": "alphabetic", "color": "#000000"},
      "encoding": {"x": {"datum": -0.0903, "type": "quantitative", "axis": null}, "y": {"datum": 0.687, "type": "quantitative", "axis": null}}
    },
    {
      "data": {"values": [{}]},
      "mark": {"type": "text", "text": "g", "font": "DejaVu Sans", "fontStyle": "italic", "fontSize": 22.5, "angle": 270, "align": "left", "baseline": "alphabetic", "color": "#000000", "dx": 21, "dy": 7},
      "encoding": {"x": {"datum": -0.0903, "type": "quantitative", "axis": null}, "y": {"datum": 0.687, "type": "quantitative", "axis": null}}
    },
    {
      "data": {"values": [{}]},
      "mark": {"type": "text", "text": ")", "font": "DejaVu Sans", "fontSize": 32.5, "angle": 270, "align": "left", "baseline": "alphabetic", "color": "#000000", "dx": 40},
      "encoding": {"x": {"datum": -0.0903, "type": "quantitative", "axis": null}, "y": {"datum": 0.687, "type": "quantitative", "axis": null}}
    }
  ]
}
